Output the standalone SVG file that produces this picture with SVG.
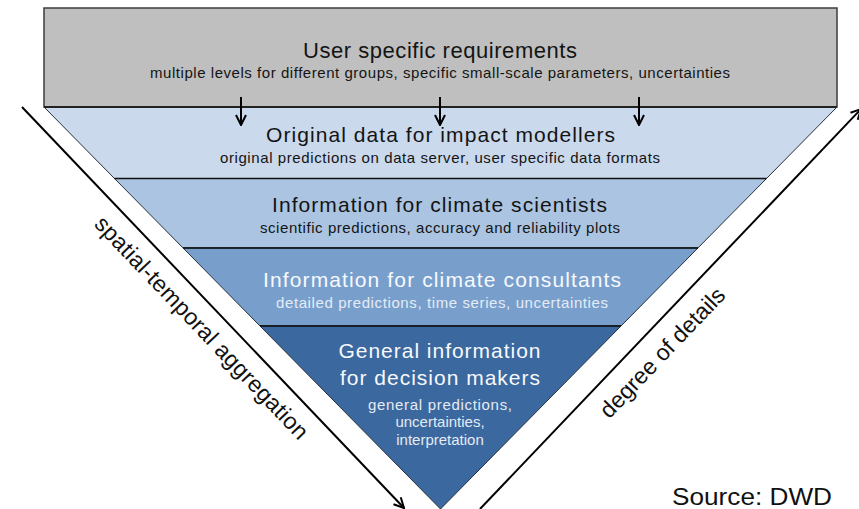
<svg xmlns="http://www.w3.org/2000/svg" width="859" height="509" viewBox="0 0 859 509">
  <style>
    text { font-family: "Liberation Sans", Arial, sans-serif; text-anchor: middle; }
    .title { font-size: 21px; }
    .sub { font-size: 15px; }
    .dark { fill: #141414; }
    .light { fill: #f7f9fc; }
    .lightsub { fill: #e4ebf5; }
    .band { stroke: #26303c; stroke-width: 1; }
    .divider { stroke: #111; stroke-width: 1.5; }
    .axis { stroke: #000; stroke-width: 2; fill: none; }
    .label { font-size: 23px; fill: #111; }
  </style>
  <defs>
    <marker id="openArrow" viewBox="0 0 12 12" refX="11" refY="6" markerWidth="12" markerHeight="12" markerUnits="userSpaceOnUse" orient="auto">
      <path d="M1,1 L11,6 L1,11" fill="none" stroke="#000" stroke-width="2"/>
    </marker>
  </defs>

  <rect width="859" height="509" fill="#ffffff"/>

  <!-- funnel bands, widest at top -->
  <g id="band-impact-modellers">
    <polygon class="band" points="44,107 837,107 766.5,178.5 114.5,178.5" fill="#cad9ec"/>
    <text class="title dark" x="440.5" y="141.5" textLength="349" lengthAdjust="spacing">Original data for impact modellers</text>
    <text class="sub dark" x="440" y="162.5" textLength="440" lengthAdjust="spacing">original predictions on data server, user specific data formats</text>
  </g>
  <g id="band-climate-scientists">
    <polygon class="band" points="114.5,178.5 766.5,178.5 697.9,248 183.1,248" fill="#abc4e1"/>
    <text class="title dark" x="439.5" y="211.5" textLength="335" lengthAdjust="spacing">Information for climate scientists</text>
    <text class="sub dark" x="440" y="233" textLength="360" lengthAdjust="spacing">scientific predictions, accuracy and reliability plots</text>
  </g>
  <g id="band-climate-consultants">
    <polygon class="band" points="183.1,248 697.9,248 621,326 260,326" fill="#789fcc"/>
    <text class="title light" x="442" y="286.5" textLength="358" lengthAdjust="spacing">Information for climate consultants</text>
    <text class="sub lightsub" x="442" y="307.5" textLength="332" lengthAdjust="spacing">detailed predictions, time series, uncertainties</text>
  </g>
  <g id="band-decision-makers">
    <polygon class="band" points="260,326 621,326 440.5,509" fill="#3b689e"/>
    <text class="title light" x="439.5" y="357.5" textLength="202" lengthAdjust="spacing">General information</text>
    <text class="title light" x="440" y="385" textLength="200" lengthAdjust="spacing">for decision makers</text>
    <text class="sub lightsub" x="440" y="410" font-size="16" textLength="144" lengthAdjust="spacing">general predictions,</text>
    <text class="sub lightsub" x="440" y="427" font-size="16">uncertainties,</text>
    <text class="sub lightsub" x="440" y="445" font-size="16">interpretation</text>
  </g>

  <!-- band dividers -->
  <g id="dividers">
    <line class="divider" x1="114.5" y1="178.5" x2="766.5" y2="178.5"/>
    <line class="divider" x1="183.1" y1="248" x2="697.9" y2="248"/>
    <line class="divider" x1="260" y1="326" x2="621" y2="326"/>
  </g>

  <!-- requirements header -->
  <g id="user-requirements">
    <rect x="44" y="8" width="793" height="99" fill="#bfbfbf" stroke="#3c3c3c" stroke-width="1.5"/>
    <line x1="44" y1="107" x2="837" y2="107" stroke="#222" stroke-width="2"/>
    <text class="dark" x="440" y="57.5" font-size="22" textLength="274" lengthAdjust="spacing">User specific requirements</text>
    <text class="dark" x="440" y="77.5" font-size="15" textLength="580" lengthAdjust="spacing">multiple levels for different groups, specific small-scale parameters, uncertainties</text>
  </g>

  <!-- connectors -->
  <g id="connectors">
    <line class="axis" x1="241" y1="97" x2="241" y2="125" marker-end="url(#openArrow)"/>
    <line class="axis" x1="440" y1="97" x2="440" y2="125" marker-end="url(#openArrow)"/>
    <line class="axis" x1="639" y1="97" x2="639" y2="125" marker-end="url(#openArrow)"/>
    <line class="axis" x1="22" y1="107" x2="404" y2="508" marker-end="url(#openArrow)"/>
    <line class="axis" x1="480" y1="509" x2="861" y2="109" marker-end="url(#openArrow)"/>
  </g>

  <!-- axis labels -->
  <g id="labels">
    <text class="label" transform="translate(196,333) rotate(46.4)" textLength="298" lengthAdjust="spacing">spatial-temporal aggregation</text>
    <text class="label" transform="translate(668,358) rotate(-46.4)">degree of details</text>
    <text class="label" x="752" y="505" font-size="26" textLength="160" lengthAdjust="spacingAndGlyphs">Source: DWD</text>
  </g>
</svg>
